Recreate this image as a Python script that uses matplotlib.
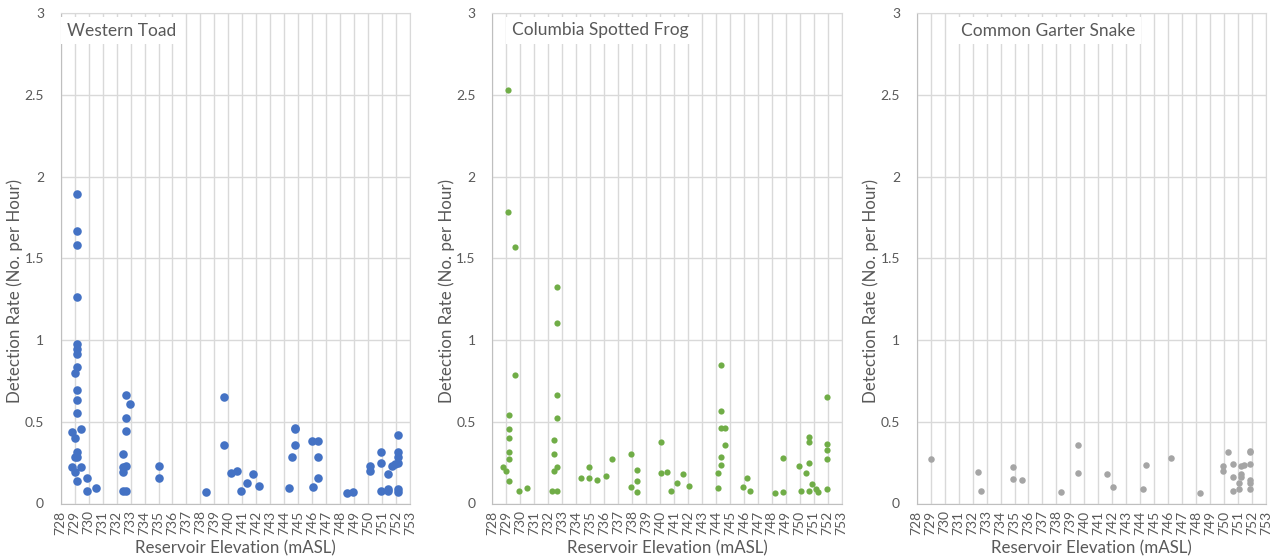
import matplotlib
matplotlib.use('Agg')
import matplotlib.pyplot as plt

plt.rcParams['font.family'] = ['Lato', 'DejaVu Sans']

# Western Toad
toad_x = [729.19, 729.19, 729.19, 729.19, 729.19, 729.19, 729.19, 729.19, 729.0, 729.19,
          729.19, 729.19, 729.48, 728.81, 729.0, 729.19, 729.0, 729.19, 728.81, 729.48,
          729.0, 729.19, 729.9, 729.9, 730.53,
          732.67, 732.96, 732.67, 732.67, 732.43, 732.43, 732.67, 732.43, 732.43, 732.67,
          735.06, 735.06, 738.4, 739.67, 739.67, 740.17, 740.6, 740.9, 741.34, 741.77, 742.2,
          744.32, 744.56, 744.77, 744.8, 744.77, 746.01, 746.4, 746.4, 746.4, 746.04,
          748.47, 748.92, 750.14, 750.14, 750.9, 750.9, 750.9, 751.4, 751.4, 751.4,
          751.74, 751.9, 752.12, 752.12, 752.12, 752.12, 752.12, 752.12]
toad_y = [1.897, 1.669, 1.583, 1.266, 0.977, 0.946, 0.914, 0.836, 0.797, 0.697,
          0.634, 0.556, 0.456, 0.440, 0.399, 0.317, 0.283, 0.283, 0.225, 0.225,
          0.195, 0.140, 0.156, 0.078, 0.093,
          0.662, 0.611, 0.525, 0.444, 0.305, 0.224, 0.228, 0.195, 0.078, 0.078,
          0.228, 0.156, 0.070, 0.650, 0.360, 0.189, 0.197, 0.078, 0.126, 0.183, 0.107,
          0.095, 0.283, 0.462, 0.455, 0.356, 0.381, 0.381, 0.283, 0.154, 0.103,
          0.064, 0.070, 0.232, 0.201, 0.317, 0.246, 0.078, 0.181, 0.087, 0.075,
          0.232, 0.242, 0.421, 0.317, 0.283, 0.246, 0.091, 0.070]

# Columbia Spotted Frog
frog_x = [729.12, 729.12, 729.62, 732.63, 732.63, 729.62, 732.63, 732.63, 729.17, 729.17,
          729.17, 729.17, 729.17, 728.79, 728.98, 729.17, 729.91, 730.5, 732.39, 732.39,
          732.39, 732.66, 732.3, 732.66, 734.33, 734.95, 734.95, 735.52, 736.14, 736.6,
          737.95, 738.36, 738.36, 737.95, 738.36, 740.06, 740.06, 740.49, 740.79, 741.2,
          741.67, 742.08, 744.39, 744.39, 744.39, 744.63, 744.63, 744.39, 744.39, 744.18,
          744.18, 745.92, 746.25, 746.47, 748.26, 748.79, 748.79, 749.95, 750.45, 750.12,
          750.67, 750.67, 750.67, 750.89, 750.67, 751.17, 751.29, 751.94, 751.94, 751.94,
          751.94, 751.94]
frog_y = [2.532, 1.783, 1.571, 1.324, 1.105, 0.787, 0.662, 0.525, 0.540, 0.458,
          0.403, 0.317, 0.271, 0.222, 0.201, 0.138, 0.078, 0.093, 0.391, 0.305,
          0.197, 0.225, 0.078, 0.078, 0.156, 0.225, 0.156, 0.144, 0.168, 0.271,
          0.305, 0.207, 0.140, 0.101, 0.070, 0.377, 0.189, 0.195, 0.078, 0.127,
          0.181, 0.107, 0.850, 0.568, 0.462, 0.462, 0.356, 0.283, 0.238, 0.189,
          0.095, 0.103, 0.154, 0.078, 0.066, 0.070, 0.279, 0.232, 0.185, 0.075,
          0.407, 0.377, 0.246, 0.119, 0.075, 0.091, 0.070, 0.650, 0.364, 0.326,
          0.274, 0.091]

# Common Garter Snake
snake_x = [729.0, 732.37, 732.58, 734.92, 734.92, 735.52, 738.31, 739.57, 739.57, 741.6,
           742.03, 744.42, 744.18, 746.2, 748.28, 750.26, 749.95, 749.95, 750.67, 750.67,
           750.67, 751.2, 751.4, 751.86, 751.2, 751.2, 751.09, 751.1, 751.87, 751.87,
           751.87, 751.87, 751.87]
snake_y = [0.274, 0.193, 0.077, 0.224, 0.152, 0.142, 0.069, 0.356, 0.185, 0.179,
           0.103, 0.236, 0.091, 0.279, 0.064, 0.315, 0.228, 0.199, 0.244, 0.160,
           0.077, 0.232, 0.235, 0.242, 0.179, 0.164, 0.125, 0.087, 0.323, 0.315,
           0.144, 0.124, 0.087]

x_ticks = list(range(728, 754))
y_ticks = [0, 0.5, 1, 1.5, 2, 2.5, 3]
y_labels = ['0', '0.5', '1', '1.5', '2', '2.5', '3']

panels = [
    ('Western Toad', toad_x, toad_y, '#4472C4', 38, 60.7, 67),
    ('Columbia Spotted Frog', frog_x, frog_y, '#70AD47', 20, 492.3, 512),
    ('Common Garter Snake', snake_x, snake_y, '#A5A5A5', 22, 916.7, 961),
]

W, H = 1273, 559
fig = plt.figure(figsize=(W / 100, H / 100), dpi=100)

text_col = '#595959'
grid_col = '#d9d9d9'
ax_w, ax_h = 349.3, 490.2

for title, xs, ys, col, size, left_px, title_px in panels:
    ax = fig.add_axes([left_px / W, (H - 503.5) / H, ax_w / W, ax_h / H])
    ax.scatter(xs, ys, s=size, color=col, linewidths=0, zorder=3, clip_on=False)
    ax.set_xlim(728, 753)
    ax.set_ylim(0, 3)
    ax.set_xticks(x_ticks)
    ax.set_xticklabels([str(t) for t in x_ticks], rotation=90)
    ax.set_yticks(y_ticks)
    ax.set_yticklabels(y_labels)
    ax.tick_params(length=0, colors=text_col, labelsize=10)
    ax.tick_params(axis='y', pad=12)
    ax.tick_params(axis='x', pad=5)
    ax.grid(True, color=grid_col, linewidth=1)
    ax.set_axisbelow(True)
    for s in ax.spines.values():
        s.set_color(grid_col)
    ax.spines['left'].set_color('#bfbfbf')
    ax.spines['bottom'].set_color('#bfbfbf')
    ax.set_ylabel('Detection Rate (No. per Hour)', fontsize=12.2, color=text_col)
    ax.yaxis.set_label_coords(-37.5 / ax_w, (503.5 - 291) / ax_h)
    ax.set_xlabel('Reservoir Elevation (mASL)', fontsize=12.2, color=text_col, labelpad=4)
    ax.text(title_px / W, 1 - 30.5 / H, title, transform=fig.transFigure,
            fontsize=12.5, color=text_col, va='center', ha='left', zorder=5,
            bbox=dict(facecolor='white', edgecolor='none', pad=4))

fig.savefig('out.png', dpi=100)
